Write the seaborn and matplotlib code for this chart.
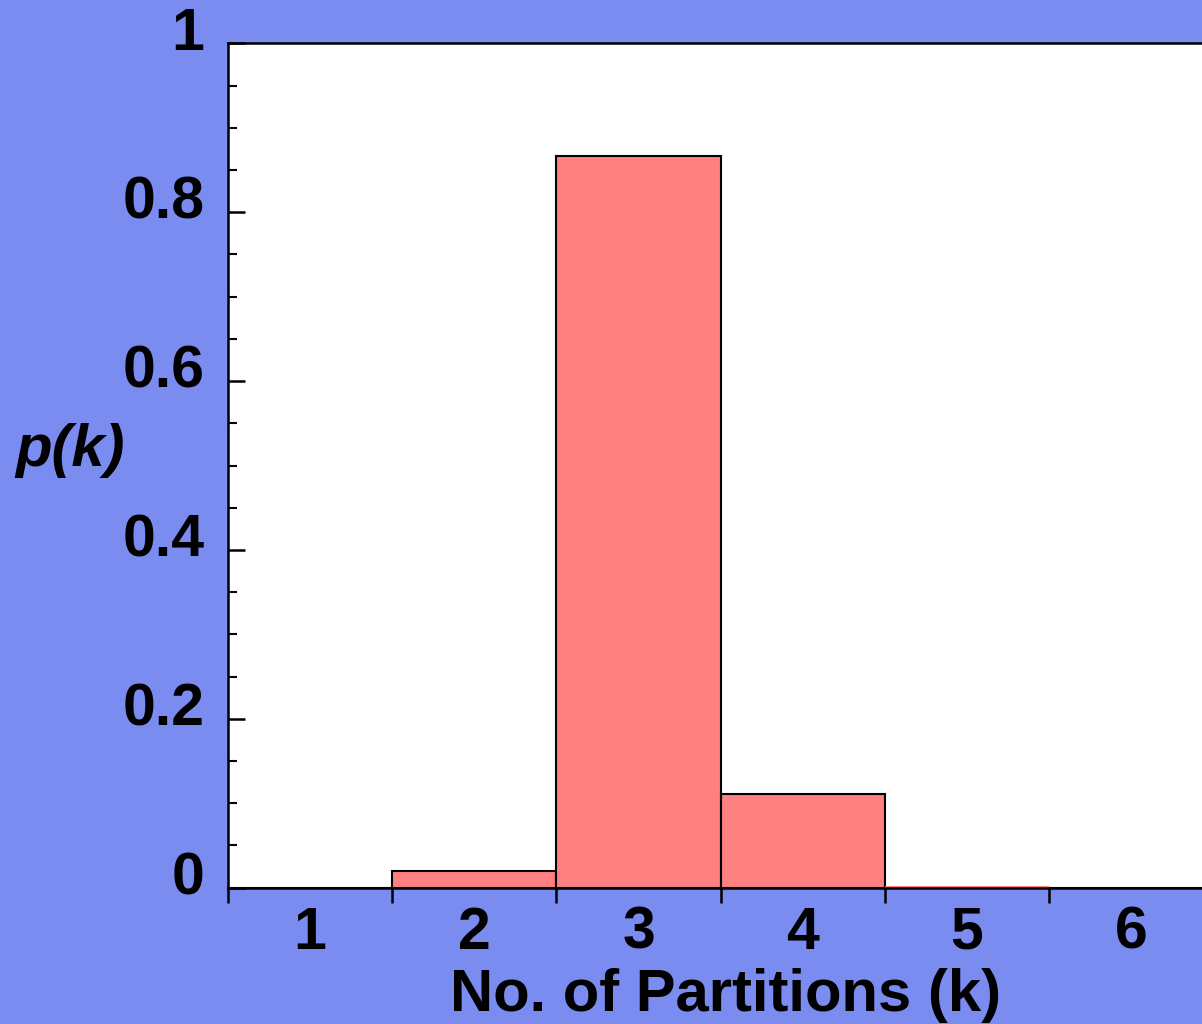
import matplotlib
matplotlib.use("Agg")
import matplotlib.pyplot as plt
import matplotlib.transforms as mtransforms
import seaborn as sns
import pandas as pd
import numpy as np
from matplotlib.ticker import FixedLocator, MultipleLocator

# ---- data ----
partitions = ["1", "2", "3", "4", "5", "6"]
probabilities = [0.0, 0.020, 0.866, 0.111, 0.002, 0.0]
y_tick_values = [0, 0.2, 0.4, 0.6, 0.8, 1.0]
y_tick_labels = ["0", "0.2", "0.4", "0.6", "0.8", "1"]
x_label = "No. of Partitions (k)"
y_label = "p(k)"

BG = "#7B8CF0"
BAR = "#FF8080"

sns.set_style("white")
plt.rcParams["font.family"] = ["Liberation Sans", "DejaVu Sans"]
plt.rcParams["font.weight"] = "bold"
plt.rcParams["text.color"] = "black"
plt.rcParams["axes.labelcolor"] = "black"
plt.rcParams["xtick.color"] = "black"
plt.rcParams["ytick.color"] = "black"
plt.rcParams["ytick.left"] = True
plt.rcParams["ytick.direction"] = "in"
plt.rcParams["ytick.major.size"] = 12
plt.rcParams["ytick.minor.size"] = 6.5
plt.rcParams["ytick.major.width"] = 1.8
plt.rcParams["ytick.minor.width"] = 1.5
plt.rcParams["xtick.bottom"] = True

fig = plt.figure(figsize=(12.02, 10.24), dpi=100)
fig.patch.set_facecolor(BG)
W, H = 1202, 1024
left, right, top, bottom = 228, 1202, 43.3, 887.7
ax = fig.add_axes([left / W, 1 - bottom / H, (right - left) / W, (bottom - top) / H])
ax.set_facecolor("white")

df = pd.DataFrame({"k": partitions, "p": probabilities})
sns.barplot(data=df, x="k", y="p", order=partitions, color=BAR, saturation=1,
            width=1.0, edgecolor="black", linewidth=1.5, ax=ax)
for patch in ax.patches:
    if 0 < patch.get_height() < 0.01:
        patch.set_linewidth(0)

ax.set_xlim(-0.5, 5.43)
ax.set_ylim(0, 1)

# spines
for s in ["left", "bottom", "top"]:
    ax.spines[s].set_visible(True)
    ax.spines[s].set_color("black")
    ax.spines[s].set_linewidth(1.8)
ax.spines["right"].set_visible(False)

# y ticks
ax.set_yticks(y_tick_values)
ax.set_yticklabels(y_tick_labels)
ax.yaxis.set_minor_locator(MultipleLocator(0.05))
ax.tick_params(axis="y", which="major", direction="in", length=12, width=1.8,
               labelsize=42.5, pad=17, left=True, right=False, color="black",
               labelcolor="black")
ax.tick_params(axis="y", which="minor", direction="in", length=6.5, width=1.5,
               left=True, right=False, color="black")

# x ticks: labels at centers, tick marks at bar edges
ax.set_xticks(range(len(partitions)))
ax.set_xticklabels(partitions)
ax.xaxis.set_minor_locator(FixedLocator(np.arange(-0.5, len(partitions) - 0.5, 1.0)))
ax.tick_params(axis="x", which="major", length=0, labelsize=42.5, pad=13, bottom=True,
               labelcolor="black")
ax.tick_params(axis="x", which="minor", direction="out", length=11, width=1.8,
               bottom=True, color="black")

for lab in ax.get_xticklabels() + ax.get_yticklabels():
    lab.set_fontweight("bold")
    lab.set_color("black")

ax.set_xlabel(x_label, fontsize=43, fontweight="bold", color="black")
ax.xaxis.set_label_coords(0.511, -0.095)
ax.xaxis.label.set_va("top")
ax.set_ylabel(y_label, fontsize=43, fontweight="bold", fontstyle="italic", rotation=0,
              ha="center", va="center", color="black")
ax.yaxis.set_label_coords(-0.162, 0.518)

# y tick labels sit slightly above their ticks, as in the reference
fig.canvas.draw()
shift = mtransforms.ScaledTranslation(0, 15 / 100, fig.dpi_scale_trans)
for lab in ax.yaxis.get_majorticklabels():
    lab.set_transform(lab.get_transform() + shift)

fig.savefig("out.png", dpi=100, facecolor=BG)
